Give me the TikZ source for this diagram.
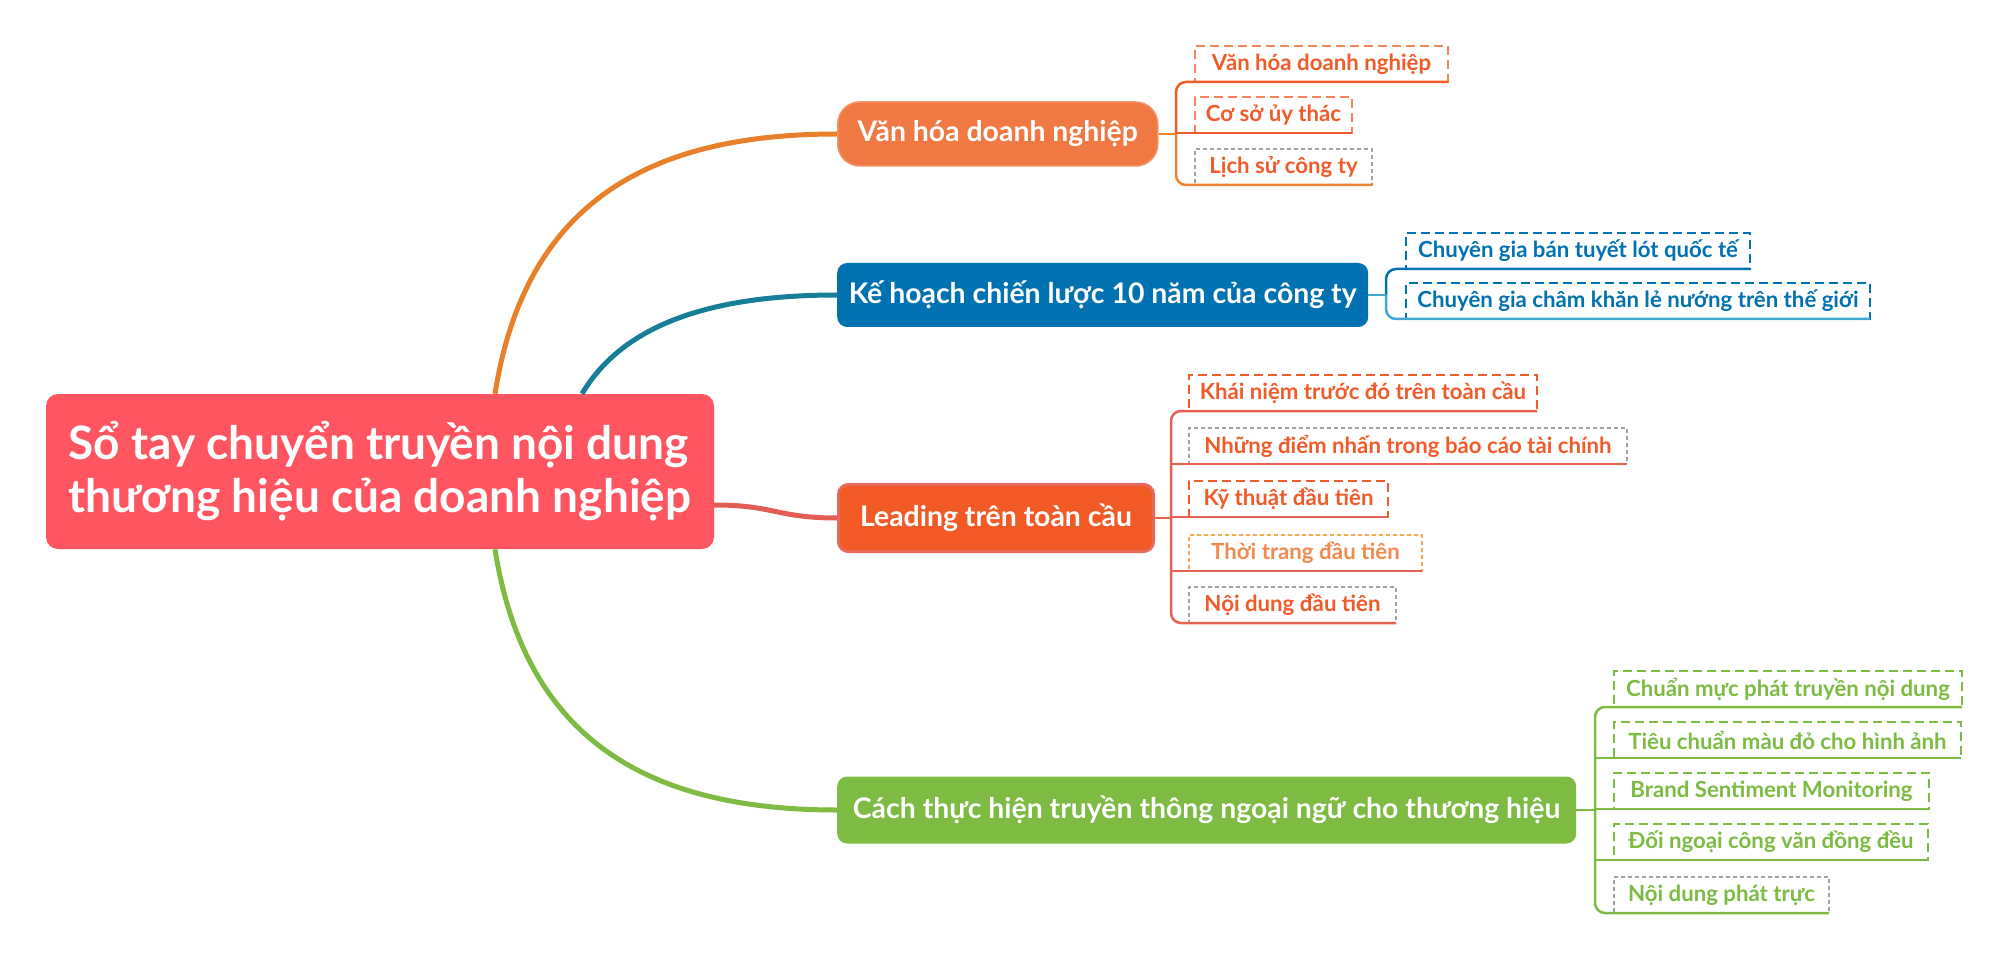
\documentclass[tikz,border=0pt]{standalone}
\usepackage{fontspec}
\setmainfont{Lato}
\usepackage{tikz}

\definecolor{rootred}{HTML}{FF5561}
\definecolor{orgline}{HTML}{E8802A}
\definecolor{tealline}{HTML}{167E98}
\definecolor{redline}{HTML}{E35E52}
\definecolor{grnline}{HTML}{7DBB42}
\definecolor{vanhoa}{HTML}{EF7843}
\definecolor{vanhoaedge}{HTML}{F49468}
\definecolor{kehoach}{HTML}{0072B2}
\definecolor{leading}{HTML}{F15A25}
\definecolor{leadingedge}{HTML}{E9685C}
\definecolor{cachthuc}{HTML}{7DBB42}
\definecolor{leafred}{HTML}{F15A29}
\definecolor{salmon}{HTML}{F4845A}
\definecolor{lightblue}{HTML}{3FA9D4}
\definecolor{lightorange}{HTML}{F8A84A}
\definecolor{orangetext}{HTML}{F28A4E}
\definecolor{bracketorg}{HTML}{F08330}
\definecolor{bracketred}{HTML}{E8604F}
\definecolor{dashgray}{HTML}{A0A0A0}

\begin{document}
\begin{tikzpicture}[
    x=1pt, y=-1pt, % pixel units, y grows downwards
    root/.style={
        fill=rootred, % red fill for the centre topic
        rounded corners=12pt, % rounded box
        text=white, % white text
        align=left, % two lines, left aligned
        font=\fontsize{46}{53}\selectfont\bfseries,
        minimum width=668pt, minimum height=155pt,
        inner sep=0pt
    },
    branch/.style={
        rounded corners=10pt, % rounded box
        text=white, % white text
        font=\fontsize{28.4}{33}\selectfont\bfseries,
        anchor=west, % placed by its left edge
        inner sep=0pt
    },
    leaf/.style={
        draw, % dashed frame
        dash pattern=on 9pt off 5pt,
        line width=2.5pt,
        font=\fontsize{22.2}{26}\selectfont\bfseries,
        minimum height=36pt,
        anchor=west, % placed by its left edge
        inner sep=0pt, outer sep=0pt
    },
    thinleaf/.style={leaf, line width=1.5pt, dash pattern=on 4pt off 3pt},
    main/.style={line width=5pt}, % curves from the centre topic
    under/.style={line width=2.5pt} % brackets and underlines
]

\fill[white] (0,0) rectangle (2009,973);

% centre topic
\node[root] (root) at (380,471.5) {Sổ tay chuyển truyền nội dung\\thương hiệu của doanh nghiệp};

% main branches
\node[branch, fill=vanhoa, draw=vanhoaedge, line width=1.5pt, rounded corners=22pt,
    minimum width=320pt, minimum height=64pt] (vanhoa) at (837,134) {Văn hóa doanh nghiệp};
\node[branch, fill=kehoach, minimum width=531pt, minimum height=64pt] (kehoach) at (837,295)
    {Kế hoạch chiến lược 10 năm của công ty};
\node[branch, fill=leading, draw=leadingedge, line width=3pt,
    minimum width=315pt, minimum height=67pt] (leading) at (837,518) {Leading trên toàn cầu};
\node[branch, fill=cachthuc, minimum width=739pt, minimum height=67pt] (cachthuc) at (837,810)
    {Cách thực hiện truyền thông ngoại ngữ cho thương hiệu};

\draw[main, orgline] ([xshift=115pt]root.north) .. controls +(30,-190) and +(-190,0) .. (vanhoa.west);
\draw[main, tealline] ([xshift=202pt]root.north) .. controls +(38,-64) and +(-137,0) .. (kehoach.west);
\draw[main, redline] ([yshift=-33.5pt]root.east) .. controls +(60,0) and +(-60,0) .. (leading.west);
\draw[main, grnline] ([xshift=115pt]root.south) .. controls +(30,190) and +(-190,0) .. (cachthuc.west);

% leaves of Văn hóa doanh nghiệp
\node[leaf, draw=salmon, text=leafred, minimum width=253pt] (vh1) at (1195,64) {Văn hóa doanh nghiệp};
\node[leaf, draw=salmon, text=leafred, minimum width=157pt] (vh2) at (1195,115) {Cơ sở ủy thác};
\node[thinleaf, draw=dashgray, text=leafred, minimum width=177pt] (vh3) at (1195,167) {Lịch sử công ty};

\coordinate (vhx) at (1176,134);
\draw[under, leafred, rounded corners=10pt] (vh1.south east) -- (vhx |- vh1.south) -- (vhx);
\draw[under, leafred] (vhx |- vh2.south) -- (vh2.south east);
\draw[under, bracketorg] (vanhoa.east) -- (vhx);
\draw[under, bracketorg, rounded corners=10pt] (vhx) -- (vhx |- vh3.south) -- (vh3.south east);

% leaves of Kế hoạch
\node[leaf, draw=kehoach, text=kehoach, minimum width=344pt] (kh1) at (1406,251) {Chuyên gia bán tuyết lót quốc tế};
\node[leaf, draw=kehoach, text=kehoach, minimum width=464pt] (kh2) at (1406,301) {Chuyên gia châm khăn lẻ nướng trên thế giới};

\coordinate (khx) at (1386,295);
\draw[under, kehoach, rounded corners=10pt] (kh1.south east) -- (khx |- kh1.south) -- (khx);
\draw[under, lightblue] (kehoach.east) -- (khx);
\draw[under, lightblue, rounded corners=10pt] (khx) -- (khx |- kh2.south) -- (kh2.south east);

% leaves of Leading
\node[leaf, draw=leafred, text=leafred, minimum width=348pt] (ld1) at (1189,393) {Khái niệm trước đó trên toàn cầu};
\node[thinleaf, draw=dashgray, text=leafred, minimum width=438pt] (ld2) at (1189,446) {Những điểm nhấn trong báo cáo tài chính};
\node[leaf, draw=leafred, text=leafred, minimum width=199pt] (ld3) at (1189,499) {Kỹ thuật đầu tiên};
\node[thinleaf, draw=lightorange, text=orangetext, minimum width=233pt] (ld4) at (1189,553) {Thời trang đầu tiên};
\node[thinleaf, draw=dashgray, text=leafred, minimum width=207pt] (ld5) at (1189,605) {Nội dung đầu tiên};

\coordinate (ldx) at (1171,518);
\draw[under, bracketred, rounded corners=10pt] (ld1.south east) -- (ldx |- ld1.south) -- (ldx |- ld5.south) -- (ld5.south east);
\draw[under, bracketred] (ldx |- ld2.south) -- (ld2.south east);
\draw[under, bracketred] (ldx |- ld3.south) -- (ld3.south east);
\draw[under, bracketred] (ldx |- ld4.south) -- (ld4.south east);
\draw[under, bracketred] (leading.east) -- (ldx);

% leaves of Cách thực hiện
\node[leaf, draw=cachthuc, text=cachthuc, minimum width=348pt] (ct1) at (1614,689) {Chuẩn mực phát truyền nội dung};
\node[leaf, draw=cachthuc, text=cachthuc, minimum width=347pt] (ct2) at (1614,740) {Tiêu chuẩn màu đỏ cho hình ảnh};
\node[leaf, draw=cachthuc, text=cachthuc, minimum width=315pt] (ct3) at (1614,791) {Brand Sentiment Monitoring};
\node[leaf, draw=cachthuc, text=cachthuc, minimum width=314pt] (ct4) at (1614,842) {Đối ngoại công văn đồng đều};
\node[thinleaf, draw=dashgray, text=cachthuc, minimum width=215pt] (ct5) at (1614,895) {Nội dung phát trực};

\coordinate (ctx) at (1595,810);
\draw[under, grnline, rounded corners=10pt] (ct1.south east) -- (ctx |- ct1.south) -- (ctx |- ct5.south) -- (ct5.south east);
\draw[under, grnline] (ctx |- ct2.south) -- (ct2.south east);
\draw[under, grnline] (ctx |- ct3.south) -- (ct3.south east);
\draw[under, grnline] (ctx |- ct4.south) -- (ct4.south east);
\draw[under, grnline] (cachthuc.east) -- (ctx);

\useasboundingbox (0,0) rectangle (2009,973);
\end{tikzpicture}
\end{document}
